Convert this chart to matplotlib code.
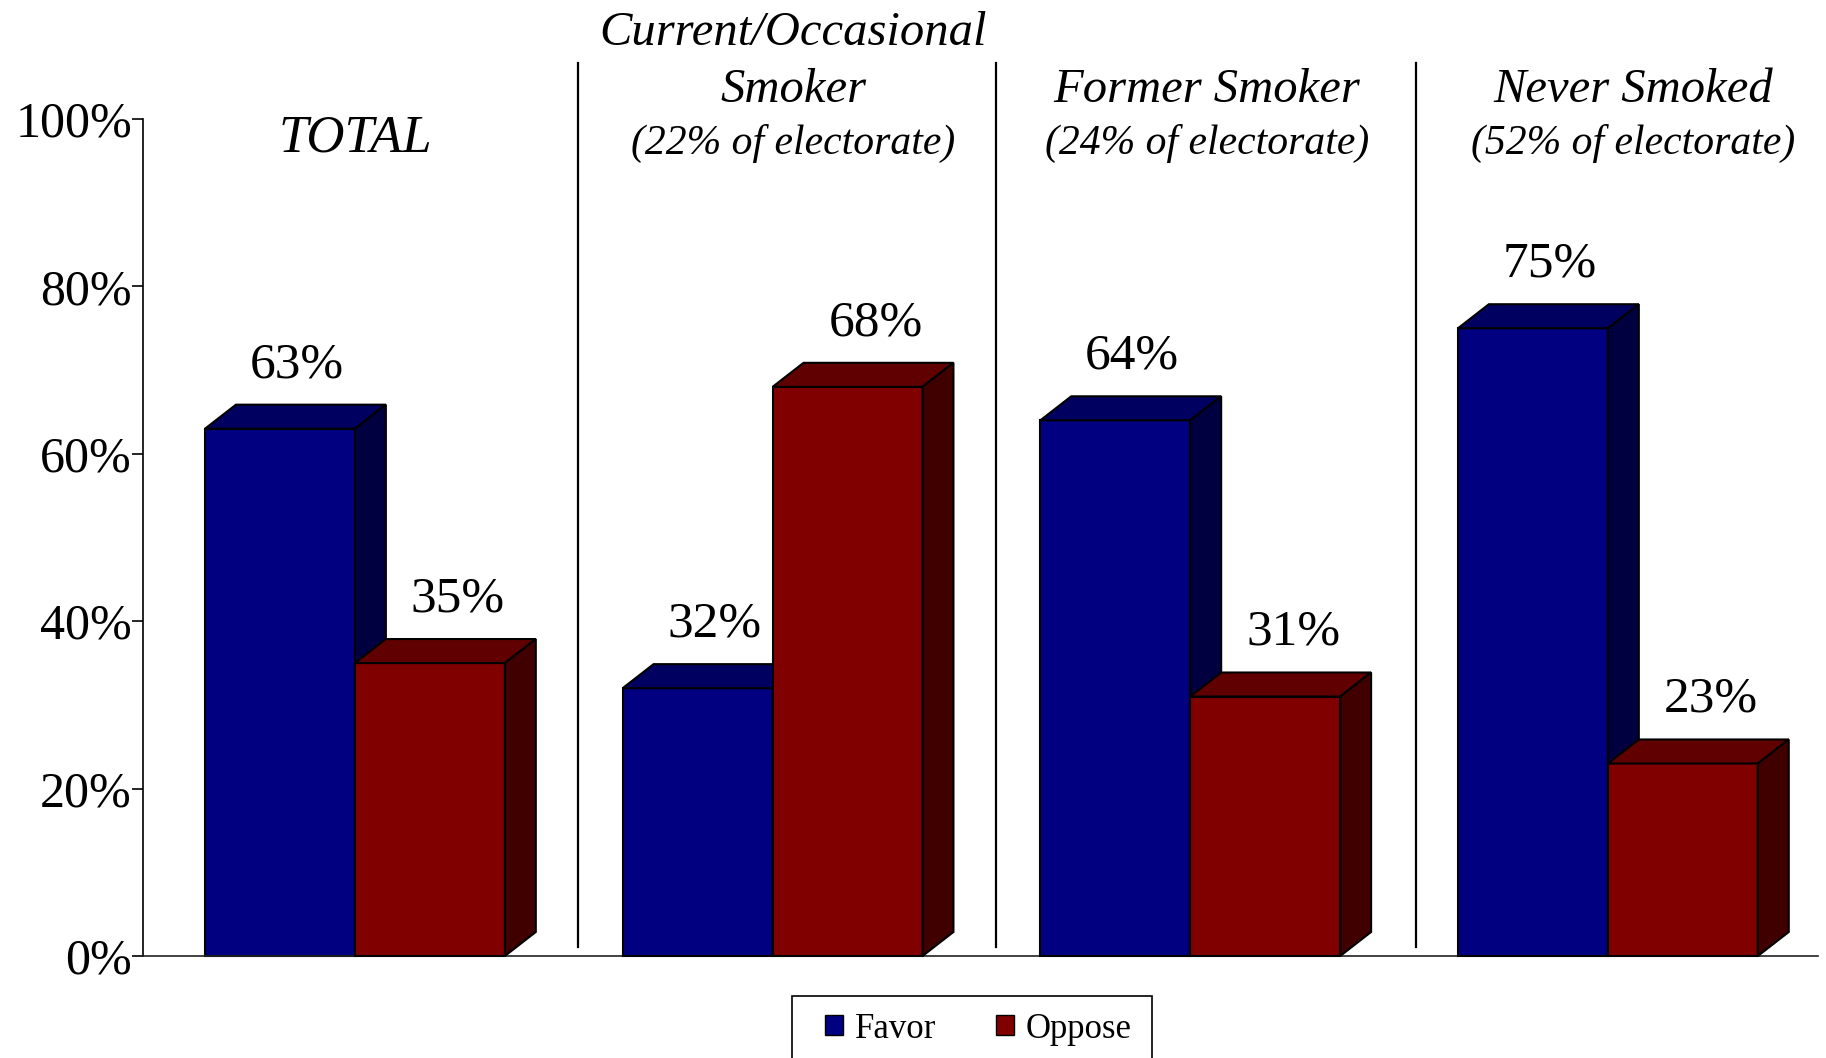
import matplotlib
matplotlib.use("Agg")
import matplotlib.pyplot as plt
from matplotlib.patches import Polygon, Patch, Rectangle
import numpy as np

plt.rcParams['font.family'] = ['Liberation Serif', 'DejaVu Serif']

# ---- data ----
groups = ["TOTAL", "Current/Occasional Smoker", "Former Smoker", "Never Smoked"]
title_lines = [["TOTAL"], ["Current/Occasional", "Smoker"], ["Former Smoker"], ["Never Smoked"]]
subtitles = ["", "(22% of electorate)", "(24% of electorate)", "(52% of electorate)"]
favor = [63, 32, 64, 75]
oppose = [35, 68, 31, 23]
series_names = ["Favor", "Oppose"]
yticks = [0, 20, 40, 60, 80, 100]
ytick_labels = ["0%", "20%", "40%", "60%", "80%", "100%"]

# ---- style ----
front = {"Favor": "#000080", "Oppose": "#800000"}
topc = {"Favor": "#000060", "Oppose": "#600000"}
sidec = {"Favor": "#000040", "Oppose": "#400000"}
W = 0.359      # bar width (data units)
DX = 0.074     # depth x
DY = 2.87      # depth y
LABEL_OFF = {"Favor": 0.04, "Oppose": 0.067}

fig = plt.figure(figsize=(18.26, 10.58), dpi=100)
ax = fig.add_axes([143/1826, 1-956/1058, (1818-143)/1826, (956-119)/1058])
ax.set_xlim(-0.5075, 3.503)
ax.set_ylim(0, 100)

x = np.arange(len(groups))
z = 2
for vals, name, off in [(favor, "Favor", -W/2), (oppose, "Oppose", W/2)]:
    for xi, v in zip(x, vals):
        x0 = xi + off - W/2
        x1 = xi + off + W/2
        ax.bar(xi + off, v, width=W, color=front[name], edgecolor="black",
               linewidth=1.5, zorder=z, clip_on=False)
        top = Polygon([(x0, v), (x1, v), (x1+DX, v+DY), (x0+DX, v+DY)], closed=True,
                      facecolor=topc[name], edgecolor="black", linewidth=1.5, zorder=z+0.1,
                      clip_on=False)
        side = Polygon([(x1, 0), (x1+DX, DY), (x1+DX, v+DY), (x1, v)], closed=True,
                       facecolor=sidec[name], edgecolor="black", linewidth=1.5, zorder=z+0.1,
                       clip_on=False)
        ax.add_patch(top)
        ax.add_patch(side)
        ax.text(xi + off + LABEL_OFF[name], v + DY + 3.3, f"{v}%", ha="center",
                va="baseline", fontsize=37, zorder=10)
        z += 1

# dividers
for d in [0.535, 1.535, 2.540]:
    ax.plot([d, d], [1.1, 106.7], color="black", lw=1.6, clip_on=False, zorder=1)

# group titles
title_x = [0.0, 1.05, 2.04, 3.06]
for i, (lines, sub) in enumerate(zip(title_lines, subtitles)):
    if not sub:
        ax.text(title_x[i], 96.1, lines[0], ha="center", va="baseline", fontsize=38,
                style="italic", clip_on=False)
        continue
    ys = [102.0] if len(lines) == 1 else [108.8, 102.0]
    for line, yy in zip(lines, ys):
        ax.text(title_x[i], yy, line, ha="center", va="baseline", fontsize=35,
                style="italic", clip_on=False)
    ax.text(title_x[i], 95.8, sub, ha="center", va="baseline", fontsize=30,
            style="italic", clip_on=False)

# axes styling
for s in ["top", "right"]:
    ax.spines[s].set_visible(False)
ax.spines["left"].set_linewidth(1.2)
ax.spines["bottom"].set_linewidth(1.2)
ax.spines["bottom"].set_color("#222222")
ax.set_yticks(yticks)
ax.set_yticklabels(ytick_labels, fontsize=36)
ax.tick_params(axis="y", direction="out", length=8, width=1.2, pad=0)
ax.set_xticks([])

# legend frame (box runs off the bottom edge, as in the reference)
frame = Rectangle((792/1826, -0.05), (1152-792)/1826, (1-996/1058) + 0.05,
                  transform=fig.transFigure, facecolor="white", edgecolor="black",
                  linewidth=1.2, zorder=0)
fig.patches.append(frame)
handles = [Patch(facecolor=front[n], edgecolor="black", linewidth=1) for n in series_names]
leg = fig.legend(handles, series_names, loc="center left",
                 bbox_to_anchor=(825/1826, 1-1029/1058), ncol=2, fontsize=25,
                 frameon=False, borderaxespad=0, borderpad=0,
                 handlelength=0.52, handleheight=0.52,
                 handletextpad=0.35, columnspacing=1.7)

fig.savefig("out.png", dpi=100)
